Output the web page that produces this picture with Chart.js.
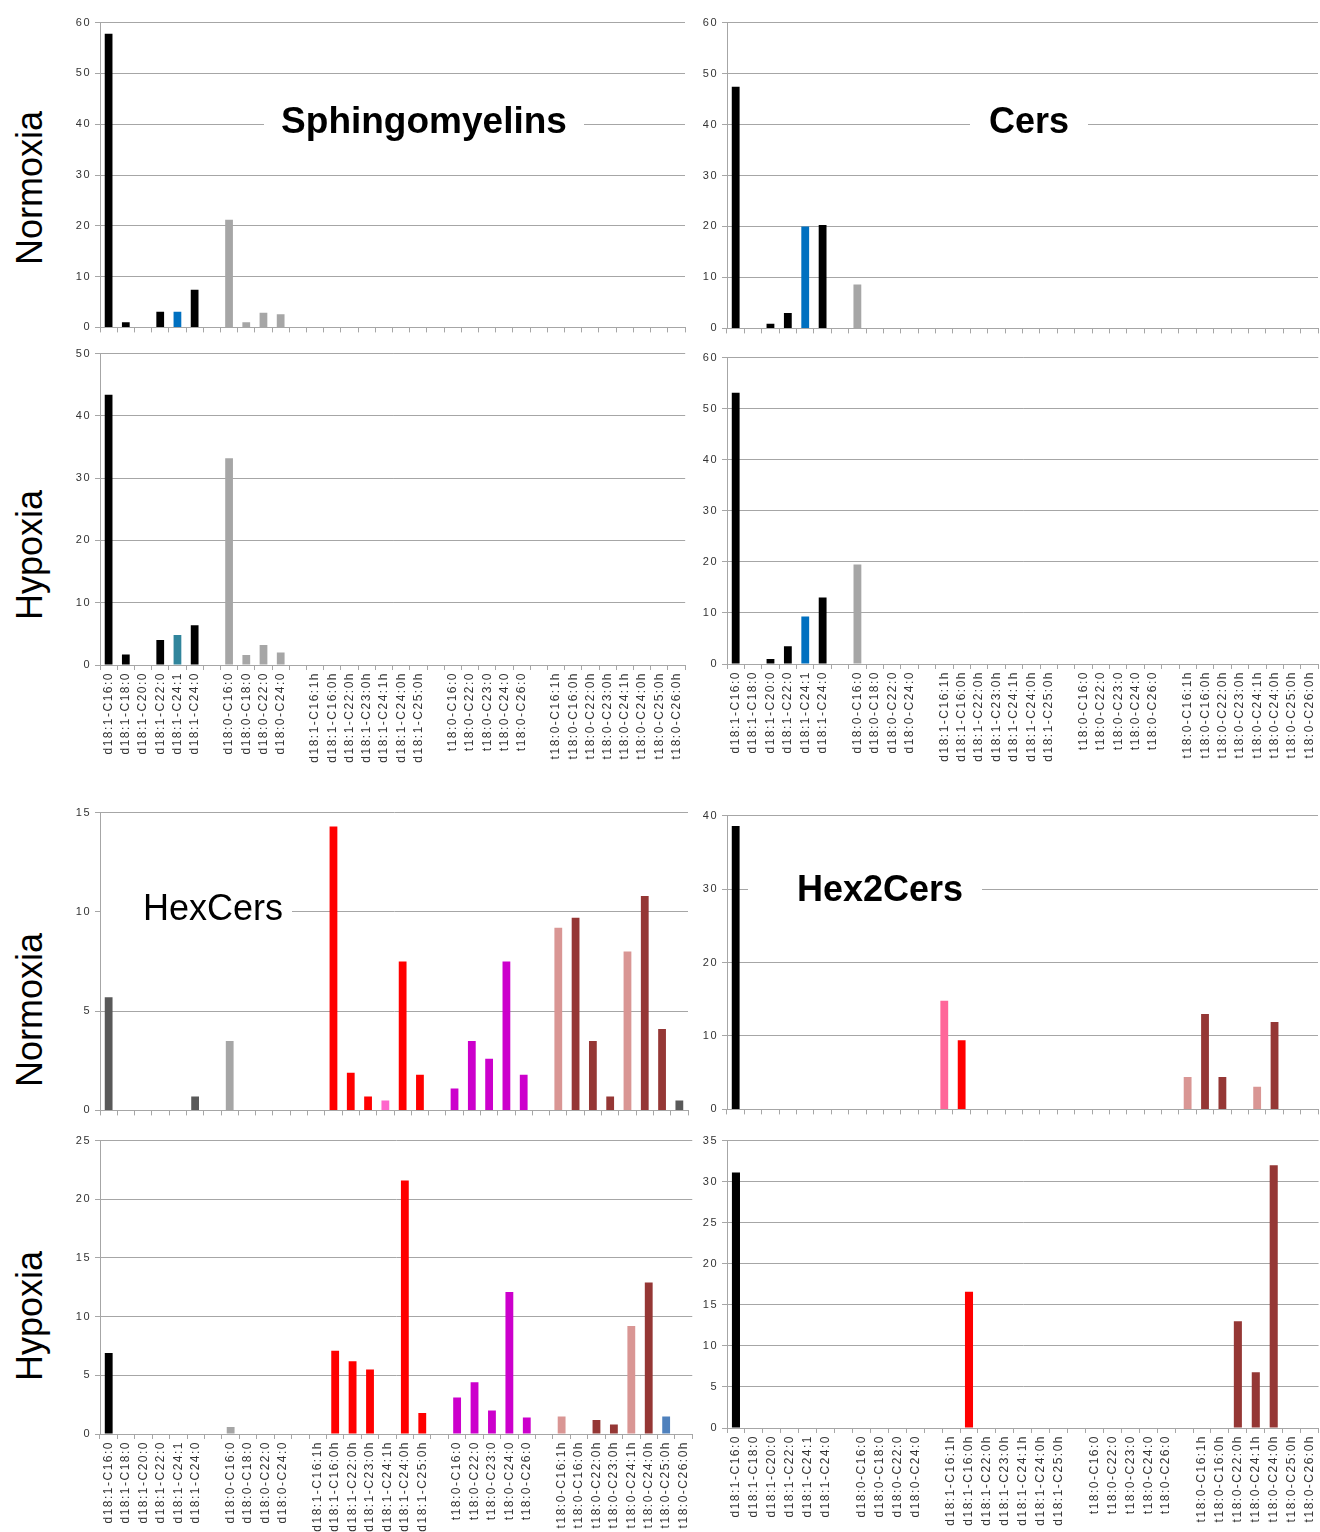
<!DOCTYPE html>
<html>
<head>
<meta charset="utf-8">
<script src="https://cdn.jsdelivr.net/npm/chart.js@4.4.1/dist/chart.umd.min.js"></script>
<style>
html, body { margin: 0; padding: 0; background: #fff; width: 1320px; height: 1532px; overflow: hidden; position: relative; font-family: "Liberation Sans", Arial, sans-serif; }
canvas { position: absolute; }
.side { position: absolute; width: 200px; height: 40px; line-height: 40px; font-size: 36px; text-align: center; transform: rotate(-90deg); white-space: nowrap; color: #000; }
.ttl { position: absolute; background: #fff; height: 40px; line-height: 40px; font-size: 36px; font-weight: bold; text-align: center; white-space: nowrap; z-index: 2; color: #000; }
</style>
</head>
<body>

<div class="side" style="left:-70px; top:168px;">Normoxia</div>
<div class="side" style="left:-70px; top:535px;">Hypoxia</div>
<div class="side" style="left:-70px; top:990px;">Normoxia</div>
<div class="side" style="left:-70px; top:1296px;">Hypoxia</div>

<div class="ttl" style="left:264px; top:101px; width:320px; font-size:37px;">Sphingomyelins</div>
<div class="ttl" style="left:970px; top:101px; width:118px;">Cers</div>
<div class="ttl" style="left:101px; top:888px; width:149px; padding-left:42px; text-align:left; font-weight:normal;">HexCers</div>
<div class="ttl" style="left:748px; top:869px; width:185px; padding-left:49px; text-align:left;">Hex2Cers</div>

<canvas id="smN"></canvas>
<canvas id="smH"></canvas>
<canvas id="cerN"></canvas>
<canvas id="cerH"></canvas>
<canvas id="hexN"></canvas>
<canvas id="hexH"></canvas>
<canvas id="hex2N"></canvas>
<canvas id="hex2H"></canvas>

<script>
// categories (empty strings are the spacer columns between the lipid families)
var categories = [
    'd18:1-C16:0', 'd18:1-C18:0', 'd18:1-C20:0', 'd18:1-C22:0', 'd18:1-C24:1', 'd18:1-C24:0', '',
    'd18:0-C16:0', 'd18:0-C18:0', 'd18:0-C22:0', 'd18:0-C24:0', '',
    'd18:1-C16:1h', 'd18:1-C16:0h', 'd18:1-C22:0h', 'd18:1-C23:0h', 'd18:1-C24:1h', 'd18:1-C24:0h', 'd18:1-C25:0h', '',
    't18:0-C16:0', 't18:0-C22:0', 't18:0-C23:0', 't18:0-C24:0', 't18:0-C26:0', '',
    't18:0-C16:1h', 't18:0-C16:0h', 't18:0-C22:0h', 't18:0-C23:0h', 't18:0-C24:1h', 't18:0-C24:0h', 't18:0-C25:0h', 't18:0-C26:0h'
];
// the Hex2Cers hypoxia panel has no t18:0-C23:0h column
var categoriesHex2Hyp = [
    'd18:1-C16:0', 'd18:1-C18:0', 'd18:1-C20:0', 'd18:1-C22:0', 'd18:1-C24:1', 'd18:1-C24:0', '',
    'd18:0-C16:0', 'd18:0-C18:0', 'd18:0-C22:0', 'd18:0-C24:0', '',
    'd18:1-C16:1h', 'd18:1-C16:0h', 'd18:1-C22:0h', 'd18:1-C23:0h', 'd18:1-C24:1h', 'd18:1-C24:0h', 'd18:1-C25:0h', '',
    't18:0-C16:0', 't18:0-C22:0', 't18:0-C23:0', 't18:0-C24:0', 't18:0-C26:0', '',
    't18:0-C16:1h', 't18:0-C16:0h', 't18:0-C22:0h', 't18:0-C24:1h', 't18:0-C24:0h', 't18:0-C25:0h', 't18:0-C26:0h'
];

var smNormoxia   = [57.8, 1.0, 0, 3.1, 3.1, 7.4, 0,  21.2, 1.0, 2.9, 2.6, 0,  0, 0, 0, 0, 0, 0, 0, 0,  0, 0, 0, 0, 0, 0,  0, 0, 0, 0, 0, 0, 0, 0];
var smHypoxia    = [43.4, 1.7, 0, 4.0, 4.8, 6.4, 0,  33.2, 1.6, 3.2, 2.0, 0,  0, 0, 0, 0, 0, 0, 0, 0,  0, 0, 0, 0, 0, 0,  0, 0, 0, 0, 0, 0, 0, 0];
var cersNormoxia = [47.4, 0, 0.9, 3.0, 20.0, 20.3, 0,  8.6, 0, 0, 0, 0,  0, 0, 0, 0, 0, 0, 0, 0,  0, 0, 0, 0, 0, 0,  0, 0, 0, 0, 0, 0, 0, 0];
var cersHypoxia  = [53.1, 0, 1.0, 3.5, 9.3, 13.0, 0,  19.5, 0, 0, 0, 0,  0, 0, 0, 0, 0, 0, 0, 0,  0, 0, 0, 0, 0, 0,  0, 0, 0, 0, 0, 0, 0, 0];
var hexNormoxia  = [5.7, 0, 0, 0, 0, 0.7, 0,  3.5, 0, 0, 0, 0,  0, 14.3, 1.9, 0.7, 0.5, 7.5, 1.8, 0,  1.1, 3.5, 2.6, 7.5, 1.8, 0,  9.2, 9.7, 3.5, 0.7, 8.0, 10.8, 4.1, 0.5];
var hexHypoxia   = [6.9, 0, 0, 0, 0, 0, 0,  0.6, 0, 0, 0, 0,  0, 7.1, 6.2, 5.5, 0, 21.6, 1.8, 0,  3.1, 4.4, 2.0, 12.1, 1.4, 0,  1.5, 0, 1.2, 0.8, 9.2, 12.9, 1.5, 0];
var hex2Normoxia = [38.6, 0, 0, 0, 0, 0, 0,  0, 0, 0, 0, 0,  14.8, 9.4, 0, 0, 0, 0, 0, 0,  0, 0, 0, 0, 0, 0,  4.4, 13.0, 4.4, 0, 3.1, 11.9, 0, 0];
var hex2Hypoxia  = [31.1, 0, 0, 0, 0, 0, 0,  0, 0, 0, 0, 0,  0, 16.6, 0, 0, 0, 0, 0, 0,  0, 0, 0, 0, 0, 0,  0, 0, 13.0, 6.8, 32.0, 0, 0];

function baseColor(lbl) {
    if (lbl.startsWith('d18:0')) return '#A6A6A6';
    if (lbl.startsWith('t18:0')) {
        if (lbl.endsWith('h')) return lbl.endsWith(':1h') ? '#D99694' : '#953735';
        return '#CC00CC';
    }
    if (lbl.endsWith('h')) return lbl === 'd18:1-C24:1h' ? '#FF66CC' : '#FF0000';
    return lbl === 'd18:1-C24:1' ? '#0070C0' : '#000000';
}

var FONT = '"Liberation Sans", Arial, sans-serif';
var spacing = {
    id: 'spacing',
    beforeDraw: function (chart) { chart.ctx.letterSpacing = '1.5px'; }
};

function panel(id, box, labels, values, yMax, yStep, showX, overrides) {
    var xh = showX ? 112 : 8;
    var extra = showX ? 6 : 0; // room lost to the rotated last label
    var cv = document.getElementById(id);
    cv.width = box.w + 42 + extra;
    cv.height = box.h + 10 + xh;
    cv.style.left = (box.l - 40) + 'px';
    cv.style.top = (box.t - 10) + 'px';
    var colors = labels.map(function (l) { return (overrides && overrides[l]) || baseColor(l); });
    return new Chart(cv, {
        type: 'bar',
        data: {
            labels: labels,
            datasets: [{
                data: values,
                backgroundColor: colors,
                borderWidth: 0,
                barPercentage: 0.45,
                categoryPercentage: 1.0
            }]
        },
        options: {
            responsive: false,
            animation: false,
            devicePixelRatio: 1,
            layout: { padding: { top: 10, right: 2, left: 0, bottom: 0 } },
            plugins: { legend: { display: false }, tooltip: { enabled: false } },
            scales: {
                x: {
                    offset: true,
                    afterFit: function (s) { s.height = xh; },
                    grid: { drawOnChartArea: false, tickLength: 5, color: '#A6A6A6' },
                    border: { color: '#A6A6A6' },
                    ticks: {
                        display: showX, autoSkip: false, minRotation: 90, maxRotation: 90,
                        padding: 2, color: '#333', font: { family: FONT, size: 12 }
                    }
                },
                y: {
                    min: 0, max: yMax,
                    afterFit: function (s) { s.width = 40; },
                    grid: { color: '#A6A6A6', tickLength: 5 },
                    border: { color: '#A6A6A6' },
                    ticks: { stepSize: yStep, padding: 4, color: '#333', font: { family: FONT, size: 11 } }
                }
            }
        },
        plugins: [spacing]
    });
}

panel('smN',  { l: 100, t: 22,   w: 585, h: 308 }, categories, smNormoxia, 60, 10, false);
panel('smH',  { l: 100, t: 353,  w: 585, h: 312 }, categories, smHypoxia, 50, 10, true, { 'd18:1-C24:1': '#31859C' });
panel('cerN', { l: 727, t: 22,   w: 591, h: 309 }, categories, cersNormoxia, 60, 10, false);
panel('cerH', { l: 727, t: 357,  w: 591, h: 307 }, categories, cersHypoxia, 60, 10, true);
panel('hexN', { l: 100, t: 812,  w: 588, h: 301 }, categories, hexNormoxia, 15, 5, false,
      { 'd18:1-C16:0': '#595959', 'd18:1-C24:0': '#595959', 't18:0-C26:0h': '#595959' });
panel('hexH', { l: 100, t: 1140, w: 592, h: 294 }, categories, hexHypoxia, 25, 5, true, { 't18:0-C25:0h': '#4F81BD' });
panel('hex2N', { l: 727, t: 815, w: 591, h: 297 }, categories, hex2Normoxia, 40, 10, false, { 'd18:1-C16:1h': '#FF6699' });
panel('hex2H', { l: 727, t: 1140, w: 591, h: 288 }, categoriesHex2Hyp, hex2Hypoxia, 35, 5, true, { 't18:0-C24:1h': '#953735' });
</script>
</body>
</html>
